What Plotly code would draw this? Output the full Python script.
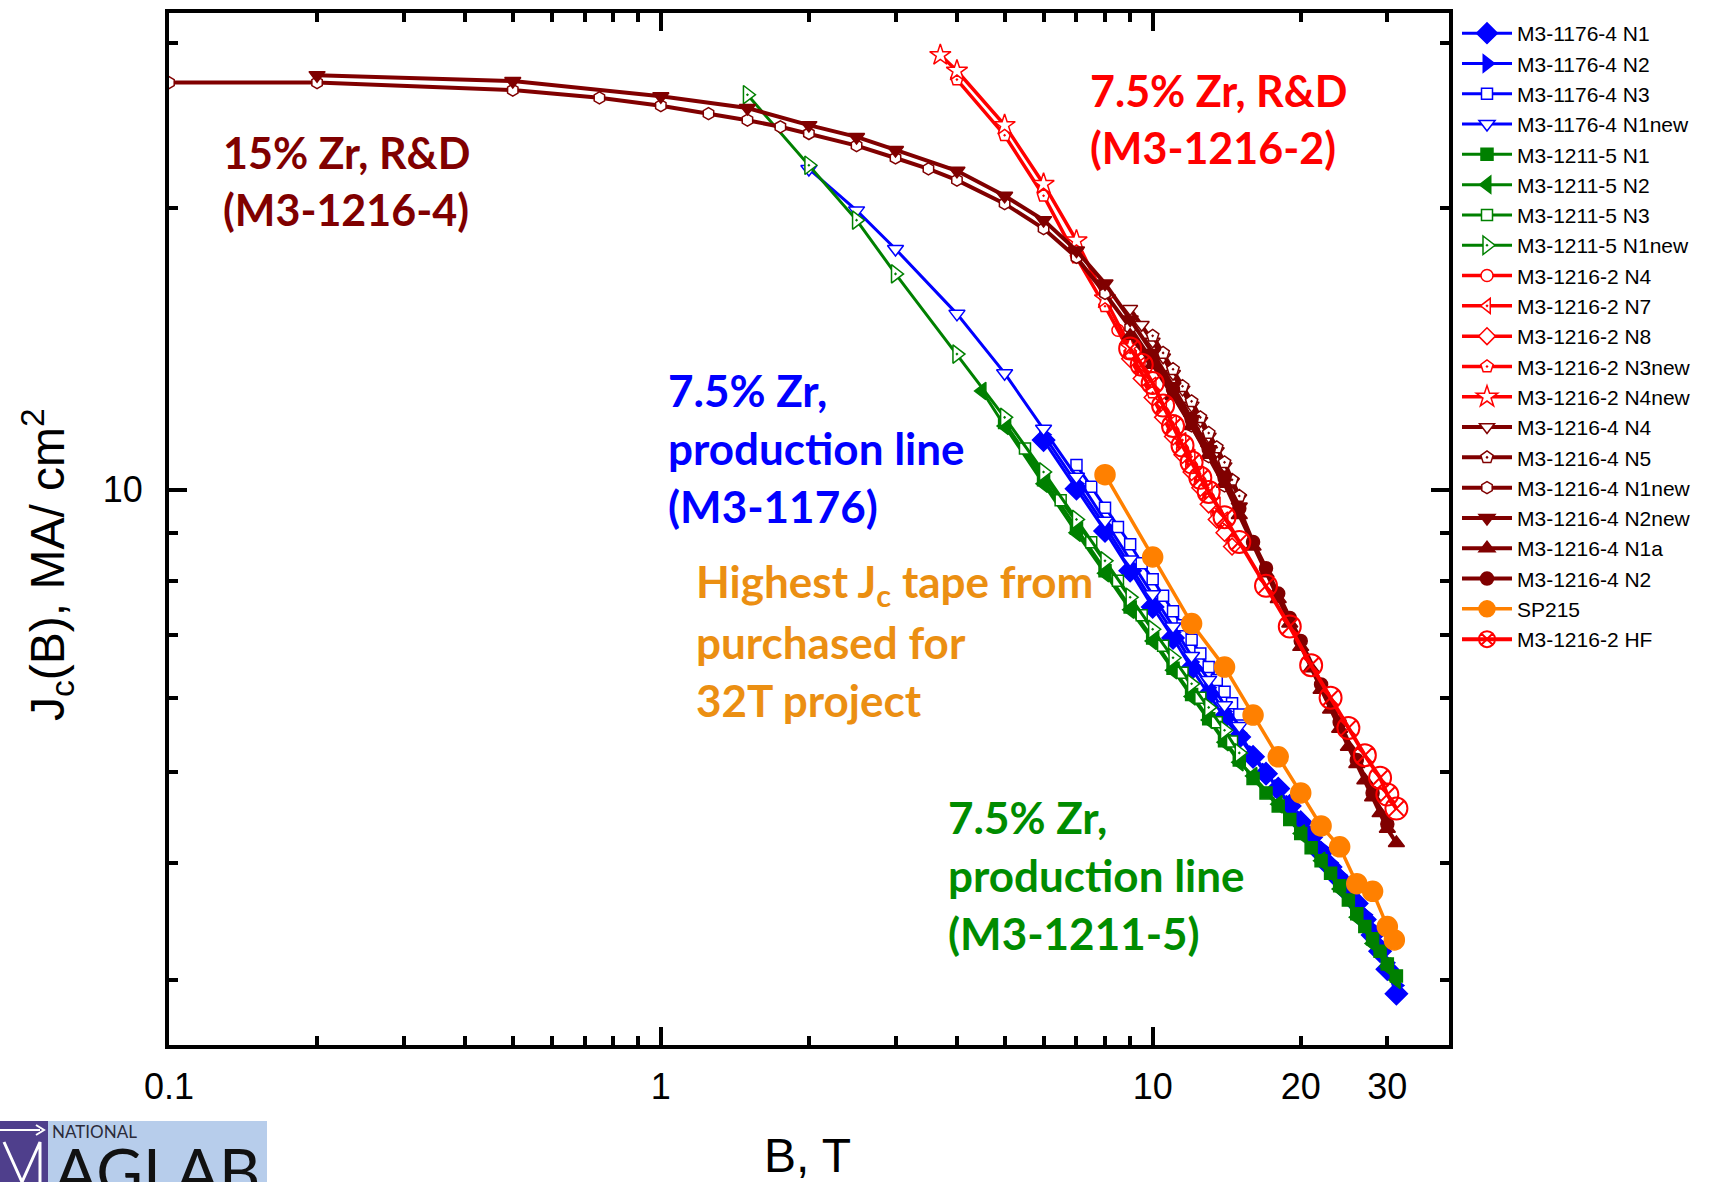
import plotly.graph_objects as go

# ---------------- data (B in T, Jc in MA/cm^2) ----------------
# M3-1176-4 (blue, production line)
b1176_n1 = [6, 7, 8, 9, 10, 11, 12, 13, 14, 15, 16, 17, 18, 19, 20, 21, 22, 23, 24, 25, 26, 27, 28, 29, 30, 31.3]
j1176_n1 = [11.3, 10.03, 9.04, 8.2, 7.5, 6.95, 6.45, 6.05, 5.72, 5.45, 5.19, 4.98, 4.8, 4.6, 4.42, 4.26, 4.1, 3.96, 3.84, 3.72, 3.62, 3.48, 3.35, 3.22, 3.08, 2.9]
b1176_n2 = [6, 7, 8, 9, 10, 11, 12, 13, 14, 15, 16, 17, 18, 19, 20, 21, 22, 23, 24, 25, 26, 27, 28, 29, 30, 31.3]
j1176_n2 = [11.45, 10.15, 9.15, 8.3, 7.6, 7.05, 6.55, 6.15, 5.8, 5.5, 5.22, 5.0, 4.8, 4.62, 4.45, 4.3, 4.15, 4.0, 3.88, 3.76, 3.64, 3.52, 3.4, 3.27, 3.13, 2.96]
b1176_n3 = [7, 7.5, 8, 8.5, 9, 9.5, 10, 10.5, 11, 11.5, 12, 12.5, 13, 13.5, 14, 14.5, 15]
j1176_n3 = [10.63, 10.08, 9.57, 9.13, 8.75, 8.35, 8.03, 7.71, 7.42, 7.17, 6.92, 6.69, 6.47, 6.27, 6.09, 5.92, 5.76]
b1176_n1new = [2, 2.5, 3, 4, 5, 6, 7, 8, 9, 10, 11, 12, 13, 14, 15]
j1176_n1new = [22.0, 19.87, 18.07, 15.41, 13.32, 11.62, 10.33, 9.27, 8.43, 7.74, 7.15, 6.65, 6.27, 5.89, 5.6]

# M3-1211-5 (green, production line)
b1211_n1 = [5, 6, 7, 8, 9, 10, 11, 12, 13, 14, 15, 16, 17, 18, 19, 20, 21, 22, 23, 24, 25, 26, 27, 28, 29, 30, 31.3]
j1211_n1 = [11.8, 10.25, 9.1, 8.2, 7.5, 6.95, 6.45, 6.05, 5.7, 5.4, 5.15, 4.92, 4.75, 4.6, 4.45, 4.3, 4.15, 4.02, 3.9, 3.78, 3.65, 3.53, 3.42, 3.32, 3.22, 3.12, 3.03]
b1211_n2 = [4.5, 5, 6, 7, 8, 9, 10, 11, 12, 13, 14, 15, 16, 18, 20, 22, 24, 26, 28, 30, 31.3]
j1211_n2 = [12.75, 11.7, 10.15, 9.0, 8.15, 7.45, 6.9, 6.42, 6.02, 5.68, 5.38, 5.12, 4.95, 4.62, 4.3, 4.02, 3.75, 3.5, 3.28, 3.1, 3.0]
b1211_n3 = [5.5, 6.5, 7.5, 8.5, 9.5, 10.5, 11.5, 12.5, 13.5, 14.5]
j1211_n3 = [11.07, 9.75, 8.79, 8.0, 7.35, 6.82, 6.38, 6.0, 5.65, 5.39]
b1211_n1new = [1.5, 2, 2.5, 3, 4, 5, 6, 7, 8, 9, 10, 11, 12, 13, 14, 15]
j1211_n1new = [26.4, 22.2, 19.4, 17.0, 13.96, 11.95, 10.45, 9.3, 8.4, 7.68, 7.1, 6.62, 6.21, 5.86, 5.54, 5.24]

# M3-1216-2 (red, 7.5% Zr R&D)
b1216_2_n4 = [8.5, 9, 9.5, 10, 10.5, 11, 11.5, 12, 12.5, 13, 13.5, 14, 14.5]
j1216_2_n4 = [14.8, 14.0, 13.3, 12.7, 12.1, 11.55, 11.05, 10.6, 10.2, 9.8, 9.45, 9.1, 8.8]
b1216_2_n7 = [9, 9.5, 10, 10.5, 11, 11.5, 12, 12.5, 13, 13.5, 14]
j1216_2_n7 = [14.3, 13.6, 12.95, 12.35, 11.8, 11.3, 10.85, 10.4, 10.0, 9.65, 9.3]
b1216_2_n8 = [9, 9.5, 10, 10.5, 11, 11.5, 12, 12.5, 13, 13.5, 14, 14.5]
j1216_2_n8 = [13.8, 13.15, 12.55, 11.95, 11.4, 10.9, 10.45, 10.05, 9.65, 9.3, 9.0, 8.7]
b1216_2_n3new = [4, 5, 6, 7, 8, 9, 10]
j1216_2_n3new = [27.4, 23.9, 20.6, 17.7, 15.7, 14.0, 12.7]
b1216_2_n4new = [3.7, 4, 5, 6, 7, 8, 9]
j1216_2_n4new = [29.1, 28.0, 24.5, 21.2, 18.45, 16.0, 14.2]
b1216_2_hf = [9, 9.5, 10, 10.5, 11, 11.5, 12, 12.5, 13, 14, 15, 17, 19, 21, 23, 25, 27, 29, 30, 31.3]
j1216_2_hf = [14.15, 13.6, 13.0, 12.3, 11.7, 11.15, 10.7, 10.3, 9.95, 9.35, 8.8, 7.9, 7.15, 6.5, 6.0, 5.57, 5.21, 4.93, 4.73, 4.57]

# M3-1216-4 (dark red, 15% Zr R&D)
b1216_4_n4 = [9, 9.5, 10, 10.5, 11, 11.5, 12, 12.5, 13, 13.5, 14, 14.5, 15]
j1216_4_n4 = [15.6, 15.0, 14.4, 13.85, 13.3, 12.8, 12.3, 11.85, 11.4, 11.0, 10.6, 10.2, 9.8]
b1216_4_n5 = [10, 10.5, 11, 11.5, 12, 12.5, 13, 13.5, 14, 14.5, 15]
j1216_4_n5 = [14.6, 14.0, 13.45, 12.9, 12.43, 11.95, 11.5, 11.1, 10.7, 10.25, 9.85]
b1216_4_n1new = [0.1, 0.2, 0.5, 0.75, 1, 1.25, 1.5, 1.75, 2, 2.5, 3, 3.5, 4, 5, 6, 7, 8, 9, 10, 11, 12, 13, 14]
j1216_4_n1new = [27.2, 27.2, 26.7, 26.2, 25.7, 25.2, 24.8, 24.4, 24.0, 23.3, 22.6, 22.0, 21.4, 20.2, 19.0, 17.7, 16.2, 14.9, 13.7, 12.65, 11.7, 10.85, 10.1]
b1216_4_n2new = [0.2, 0.5, 1, 1.5, 2, 2.5, 3, 4, 5, 6, 7, 8, 9, 10, 11, 12, 13, 14, 15]
j1216_4_n2new = [27.7, 27.3, 26.3, 25.55, 24.5, 23.8, 23.05, 21.9, 20.6, 19.4, 18.0, 16.6, 15.2, 14.0, 12.9, 11.9, 11.05, 10.3, 9.6]
b1216_4_n1a = [9, 10, 11, 12, 13, 14, 15, 16, 17, 18, 19, 20, 21, 22, 23, 24, 25, 26, 27, 28, 29, 30, 31.3]
j1216_4_n1a = [14.6, 13.6, 12.6, 11.7, 10.9, 10.15, 9.4, 8.7, 8.15, 7.65, 7.2, 6.8, 6.45, 6.12, 5.83, 5.56, 5.32, 5.1, 4.9, 4.7, 4.52, 4.35, 4.2]
b1216_4_n2 = [10, 11, 12, 13, 14, 15, 16, 17, 18, 19, 20, 22, 24, 26, 28, 30]
j1216_4_n2 = [13.8, 12.8, 11.9, 11.05, 10.3, 9.55, 8.8, 8.25, 7.75, 7.3, 6.9, 6.2, 5.65, 5.15, 4.75, 4.4]

# SP215 (orange, purchased tape)
b_sp215 = [8, 10, 12, 14, 16, 18, 20, 22, 24, 26, 28, 30, 31]
j_sp215 = [10.38, 8.48, 7.2, 6.47, 5.75, 5.19, 4.75, 4.38, 4.16, 3.8, 3.73, 3.42, 3.31]

# axis ticks
x_major = [0.1, 0.2, 0.3, 0.4, 0.5, 0.6, 0.7, 0.8, 0.9, 1, 2, 3, 4, 5, 6, 7, 8, 9, 10, 20, 30]
x_labels = ["0.1", "", "", "", "", "", "", "", "", "1", "", "", "", "", "", "", "", "", "10", "20", "30"]
x_long = [0.1, 1, 10]
y_major = [10]
y_labels = ["10"]
y_short = [3, 4, 5, 6, 7, 8, 9, 20, 30]

# ---------------- layout geometry ----------------
W, H = 1718, 1182
ML, MR, MT, MB = 169, 269, 13, 137
PW = W - ML - MR
PH = H - MT - MB


def px(x):
    return (x - ML) / PW


def py(y):
    return 1 - (y - MT) / PH


BLUE, GREEN, RED, DRED, ORANGE = "#0000FF", "#008000", "#FF0000", "#800000", "#FF8000"

fig = go.Figure()


def add(name, x, y, color, symbol, size, fill, lw=1.5, linew=3.0):
    fig.add_trace(go.Scatter(
        x=x, y=y, name=name, mode="lines+markers",
        line=dict(color=color, width=linew),
        marker=dict(symbol=symbol, size=size, color=fill, line=dict(color=color, width=lw)),
    ))


add("M3-1176-4 N1", b1176_n1, j1176_n1, BLUE, "diamond", 17, BLUE)
add("M3-1176-4 N2", b1176_n2, j1176_n2, BLUE, "triangle-right", 15, BLUE)
add("M3-1176-4 N3", b1176_n3, j1176_n3, BLUE, "square", 11, "white")
add("M3-1176-4 N1new", b1176_n1new, j1176_n1new, BLUE, "triangle-down", 14, "white")
add("M3-1211-5 N1", b1211_n1, j1211_n1, GREEN, "square", 12, GREEN)
add("M3-1211-5 N2", b1211_n2, j1211_n2, GREEN, "triangle-left", 15, GREEN)
add("M3-1211-5 N3", b1211_n3, j1211_n3, GREEN, "square", 11, "white")
add("M3-1211-5 N1new", b1211_n1new, j1211_n1new, GREEN, "triangle-right-dot", 16, "white")
add("M3-1216-2 N4", b1216_2_n4, j1216_2_n4, RED, "circle", 12, "white", linew=3.5)
add("M3-1216-2 N7", b1216_2_n7, j1216_2_n7, RED, "triangle-left-dot", 13, "white", linew=3.5)
add("M3-1216-2 N8", b1216_2_n8, j1216_2_n8, RED, "diamond", 13, "white", linew=3.5)
add("M3-1216-2 N3new", b1216_2_n3new, j1216_2_n3new, RED, "pentagon-dot", 13, "white", linew=3.5)
add("M3-1216-2 N4new", b1216_2_n4new, j1216_2_n4new, RED, "star", 16, "white", linew=3.5)
add("M3-1216-4 N4", b1216_4_n4, j1216_4_n4, DRED, "triangle-down", 13, "white", linew=4)
add("M3-1216-4 N5", b1216_4_n5, j1216_4_n5, DRED, "pentagon-dot", 13, "white", linew=4)
add("M3-1216-4 N1new", b1216_4_n1new, j1216_4_n1new, DRED, "hexagon", 12, "white", linew=4)
add("M3-1216-4 N2new", b1216_4_n2new, j1216_4_n2new, DRED, "triangle-down", 14, DRED, linew=4)
add("M3-1216-4 N1a", b1216_4_n1a, j1216_4_n1a, DRED, "triangle-up", 14, DRED, linew=4)
add("M3-1216-4 N2", b1216_4_n2, j1216_4_n2, DRED, "circle", 13, DRED, linew=4)
add("SP215", b_sp215, j_sp215, ORANGE, "circle", 20, ORANGE, linew=3.5)
add("M3-1216-2 HF", b1216_2_hf, j1216_2_hf, RED, "circle-x-open", 22, RED, lw=2, linew=4)

TXT = "Liberation Sans, Arial, sans-serif"
ANN = "Lato, Carlito, Calibri, sans-serif"

axis_common = dict(
    type="log", showgrid=False, zeroline=False,
    showline=True, linewidth=4, linecolor="black", mirror="allticks",
    ticks="inside", tickwidth=3.5, tickcolor="black",
    tickfont=dict(family=TXT, size=36, color="black"),
)

fig.update_layout(
    width=W, height=H,
    margin=dict(l=ML, r=MR, t=MT, b=MB, autoexpand=False),
    paper_bgcolor="white", plot_bgcolor="white",
    xaxis=dict(axis_common, range=[-1, 1.6025], tickmode="array", ticklen=9,
               tickvals=x_major, ticktext=x_labels, ticklabelstandoff=7,
               minor=dict(tickmode="array", tickvals=x_long, ticks="inside", ticklen=18,
                          tickwidth=3.5, tickcolor="black")),
    yaxis=dict(axis_common, range=[0.4077, 1.5088], tickmode="array", ticklen=18,
               tickvals=y_major, ticktext=y_labels, ticklabelstandoff=15,
               minor=dict(tickmode="array", tickvals=y_short, ticks="inside", ticklen=9,
                          tickwidth=3.5, tickcolor="black")),
    showlegend=True,
    legend=dict(x=px(1457), y=1, xanchor="left", yanchor="top",
                font=dict(family=TXT, size=21, color="black"),
                bgcolor="rgba(0,0,0,0)", borderwidth=0, itemwidth=50,
                tracegroupgap=0),
    font=dict(family=TXT),
)

annotations = []


def note(text, x, y, color, size=43, xanchor="left", yanchor="middle", family=ANN, angle=0):
    annotations.append(dict(
        text=text, x=px(x), y=py(y), xref="paper", yref="paper",
        xanchor=xanchor, yanchor=yanchor, showarrow=False, textangle=angle,
        font=dict(family=family, size=size, color=color),
    ))


# axis titles
note("B, T", 807, 1155, "black", size=48, xanchor="center", family=TXT)
note("J<sub>c</sub>(B), MA/ cm<sup>2</sup>", 47, 565, "black", size=48, xanchor="center", family=TXT, angle=-90)

# in-plot labels
for i, t in enumerate(["<b>15% Zr, R&D</b>", "<b>(M3-1216-4)</b>"]):
    note(t, 221, 152 + 57 * i, DRED)
for i, t in enumerate(["<b>7.5% Zr, R&D</b>", "<b>(M3-1216-2)</b>"]):
    note(t, 1088, 90 + 57 * i, RED)
for i, t in enumerate(["<b>7.5% Zr,</b>", "<b>production line</b>", "<b>(M3-1176)</b>"]):
    note(t, 666, 390 + 58 * i, BLUE, size=44)
for i, t in enumerate(["<b>Highest J<sub>c</sub> tape from</b>", "<b>purchased for</b>", "<b>32T project</b>"]):
    note(t, 694, 584 + 58 * i, "#EB8F12", size=44)
for i, t in enumerate(["<b>7.5% Zr,</b>", "<b>production line</b>", "<b>(M3-1211-5)</b>"]):
    note(t, 946, 817 + 58 * i, "#008C00", size=44)

# NATIONAL MAGLAB logo (bottom-left corner)
shapes = [
    dict(type="rect", xref="paper", yref="paper", x0=px(0), x1=px(48), y0=py(1190), y1=py(1121),
         fillcolor="#4F3F8C", line=dict(width=0), layer="above"),
    dict(type="rect", xref="paper", yref="paper", x0=px(48), x1=px(267), y0=py(1190), y1=py(1121),
         fillcolor="#B7CDEB", line=dict(width=0), layer="above"),
    dict(type="line", xref="paper", yref="paper", x0=px(0), x1=px(40), y0=py(1130), y1=py(1130),
         line=dict(color="white", width=2), layer="above"),
    dict(type="path", xref="paper", yref="paper",
         path=f"M {px(36)} {py(1125)} L {px(44)} {py(1130)} L {px(36)} {py(1135)}",
         line=dict(color="white", width=2), layer="above"),
    dict(type="path", xref="paper", yref="paper",
         path=f"M {px(4)} {py(1142)} L {px(22)} {py(1182)} L {px(40)} {py(1142)} L {px(40)} {py(1182)}",
         line=dict(color="white", width=3), layer="above"),
]
note("NATIONAL", 50, 1131, "#2B2B3A", size=17, family="Lato, sans-serif")
note("AGLAB", 52, 1170, "#111111", size=64, family="Lato, sans-serif")

fig.update_layout(annotations=annotations, shapes=shapes)

fig.write_html("out.html", include_plotlyjs=True, full_html=True,
               config={"displayModeBar": False, "responsive": False})
